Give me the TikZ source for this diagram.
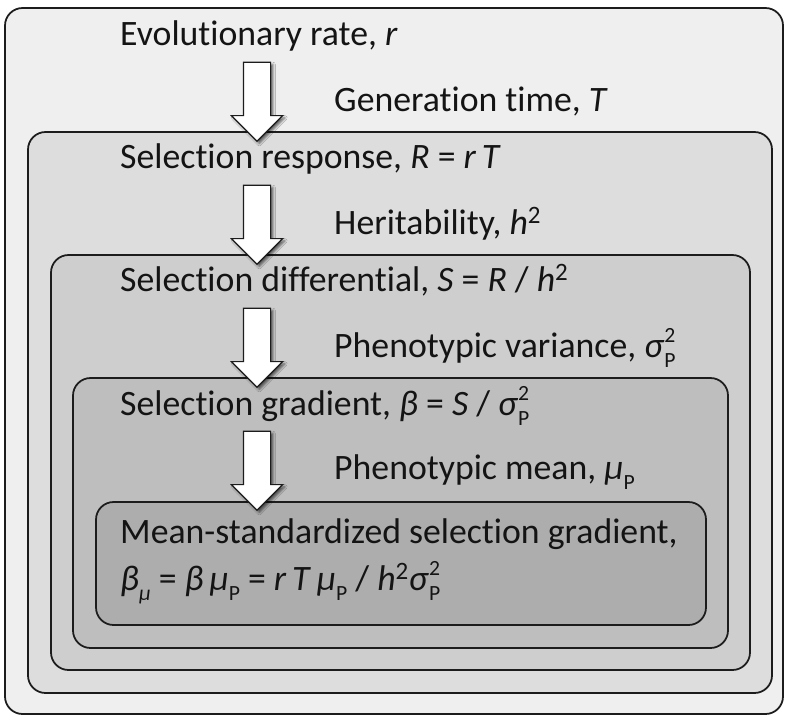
\documentclass[tikz,border=0pt]{standalone}
\usepackage{fontspec}
\setmainfont{Carlito}[Ligatures=NoCommon]
\usetikzlibrary{
    shapes.arrows,
    shadows.blur,
    positioning
}
\definecolor{lineDark}{RGB}{28, 28, 28}
\definecolor{textBlack}{RGB}{20, 20, 20}
\definecolor{levelOne}{RGB}{239, 239, 239}
\definecolor{levelTwo}{RGB}{221, 221, 221}
\definecolor{levelThree}{RGB}{206, 206, 206}
\definecolor{levelFour}{RGB}{190, 190, 190}
\definecolor{levelFive}{RGB}{173, 173, 173}
\newcommand{\labelFont}{\fontsize{30.5}{40}\selectfont}
\newcommand{\indexFont}{\fontsize{18.5}{19}\selectfont}
\newcommand{\sigP}{\textit{σ}\makebox[0pt][l]{\raisebox{0.42em}{\indexFont 2}}\raisebox{-0.28em}{\indexFont P}}
\newcommand{\muP}{\textit{μ}\raisebox{-0.28em}{\indexFont P}}
\tikzset{
    panel/.style={
        draw=lineDark,
        line width=1.5pt,
        rounded corners=15pt
    },
    mainLabel/.style={
        anchor=base west,
        inner sep=0pt,
        text=textBlack,
        font=\labelFont
    },
    sideLabel/.style={
        mainLabel
    },
    flowArrow/.style={
        single arrow,
        shape border rotate=270,
        draw=lineDark,
        fill=white,
        line width=1pt,
        inner sep=0.39cm,
        minimum height=2.37cm,
        single arrow head extend=0.36cm,
        single arrow head indent=0pt,
        anchor=tip,
        blur shadow={shadow xshift=2pt, shadow yshift=-2pt, shadow blur radius=2pt, shadow opacity=60}
    }
}

\begin{document}
\begin{tikzpicture}[x=0.03cm, y=-0.03cm]
    \useasboundingbox (0,0) rectangle (787,717);
    \fill[white] (0,0) rectangle (787,717);

    % Nested panels
    \draw[panel, fill=levelOne] (5,8) rectangle (783,714);
    \draw[panel, fill=levelTwo] (28,132) rectangle (772,693);
    \draw[panel, fill=levelThree] (51,255) rectangle (750,670);
    \draw[panel, fill=levelFour] (73,378) rectangle (728,648);
    \draw[panel, fill=levelFive] (96,502) rectangle (706,625);

    % Quantities
    \node[mainLabel] (rate) at (120,45) {Evolutionary rate, \textit{r}};
    \node[sideLabel] (genTime) at (334,111) {Generation time, \textit{T}};
    \node[mainLabel] (response) at (120,168) {Selection response, \textit{R} = \textit{r\,T}};
    \node[sideLabel] (herit) at (334,234) {Heritability, \textit{h}\textsuperscript{2}};
    \node[mainLabel] (differential) at (120,291) {Selection differential, \textit{S} = \textit{R} / \textit{h}\textsuperscript{2}};
    \node[sideLabel] (phenVar) at (334,357) {Phenotypic variance, \sigP};
    \node[mainLabel] (gradient) at (120,415) {Selection gradient, \textit{β} = \textit{S} / \sigP};
    \node[sideLabel] (phenMean) at (334,479) {Phenotypic mean, \muP};
    \node[mainLabel] (meanStd) at (120,543) {Mean-standardized selection gradient,};
    \node[mainLabel] (meanStdEq) at (120,590) {\textit{β}\raisebox{-0.28em}{\indexFont\itshape μ} = \textit{β}\,\muP{} = \textit{r\,T}\,\muP{} / \textit{h}\textsuperscript{2}\sigP};

    % Arrows (top to bottom)
    \node[flowArrow] (arrowOne) at (257,142) {};
    \node[flowArrow] (arrowTwo) at (257,265) {};
    \node[flowArrow] (arrowThree) at (257,388) {};
    \node[flowArrow] (arrowFour) at (257,511) {};
\end{tikzpicture}
\end{document}
